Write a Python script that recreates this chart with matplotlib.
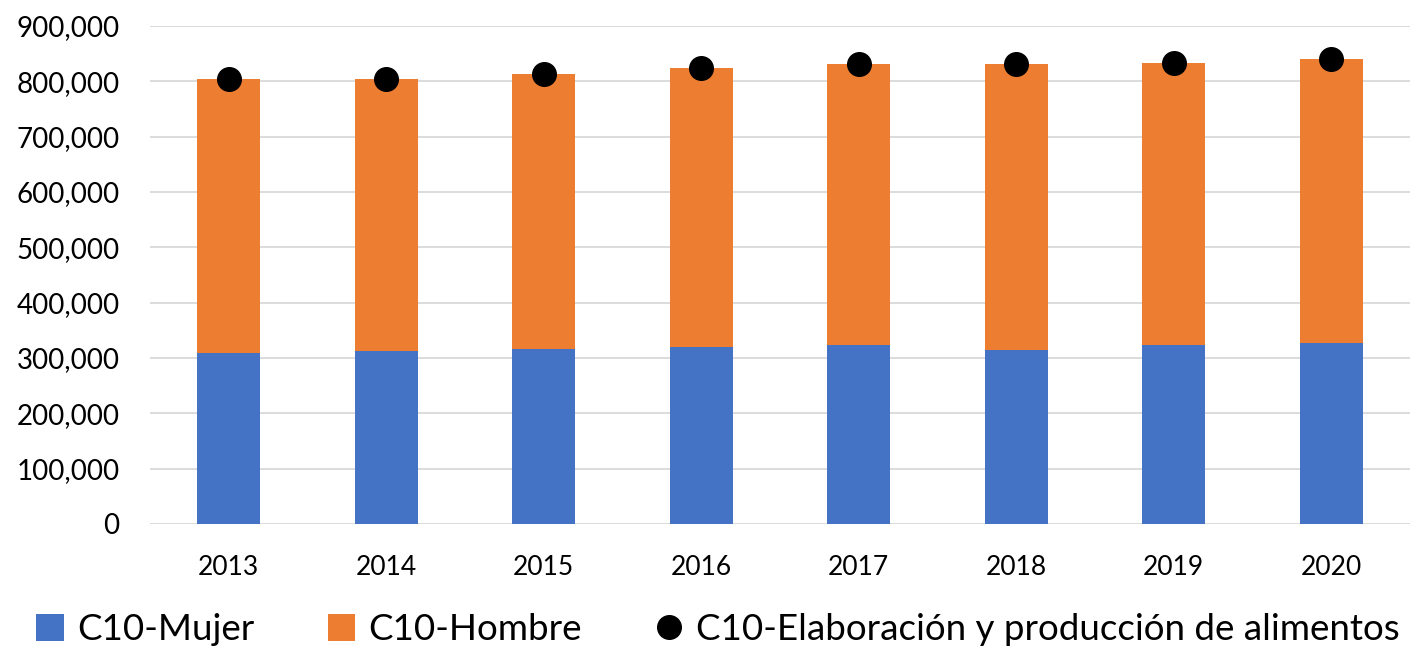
import matplotlib
matplotlib.use("Agg")
import matplotlib.pyplot as plt
from matplotlib.ticker import FuncFormatter
from matplotlib.lines import Line2D
from matplotlib.patches import Patch

plt.rcParams['font.family'] = ['Lato', 'DejaVu Sans']

years = ["2013", "2014", "2015", "2016", "2017", "2018", "2019", "2020"]
mujer = [309800, 313400, 317000, 319500, 323100, 315200, 323700, 326800]
total = [803700, 804800, 812700, 824000, 831600, 830800, 833800, 839500]
hombre = [t - m for t, m in zip(total, mujer)]

c_mujer = "#4472C4"
c_hombre = "#ED7D31"

fig = plt.figure(figsize=(14.18, 6.5), dpi=100)
ax = fig.add_axes([150/1418, 126/650, 1260/1418, 498/650])

x = list(range(len(years)))
ax.bar(x, mujer, width=0.4, color=c_mujer, zorder=2)
ax.bar(x, hombre, width=0.4, bottom=mujer, color=c_hombre, zorder=2)
ax.plot(x, total, linestyle="none", marker="o", markersize=17, color="black", zorder=3)

ax.set_ylim(0, 900000)
ax.set_xlim(-0.5, len(years) - 0.5)
ax.set_yticks(range(0, 900001, 100000))
ax.yaxis.set_major_formatter(FuncFormatter(lambda v, p: f"{int(v):,}"))
ax.set_xticks(x)
ax.set_xticklabels(years)
ax.grid(axis="y", color="#D9D9D9", linewidth=1.3, zorder=0)
ax.set_axisbelow(True)
for s in ax.spines.values():
    s.set_visible(False)
ax.tick_params(axis="both", length=0)
ax.tick_params(axis="y", labelsize=20, pad=22)
ax.tick_params(axis="x", labelsize=19, pad=22)

handles = [
    Patch(facecolor=c_mujer, label="C10-Mujer"),
    Patch(facecolor=c_hombre, label="C10-Hombre"),
    Line2D([], [], linestyle="none", marker="o", markersize=17, color="black",
           label="C10-Elaboración y producción de alimentos"),
]
fig.legend(handles=handles, loc="center", bbox_to_anchor=(718/1418, 20/650),
           ncol=3, frameon=False, fontsize=26.5, handlelength=0.75, handleheight=0.75,
           handletextpad=0.35, columnspacing=2.0)

fig.savefig("out.png", dpi=100)
